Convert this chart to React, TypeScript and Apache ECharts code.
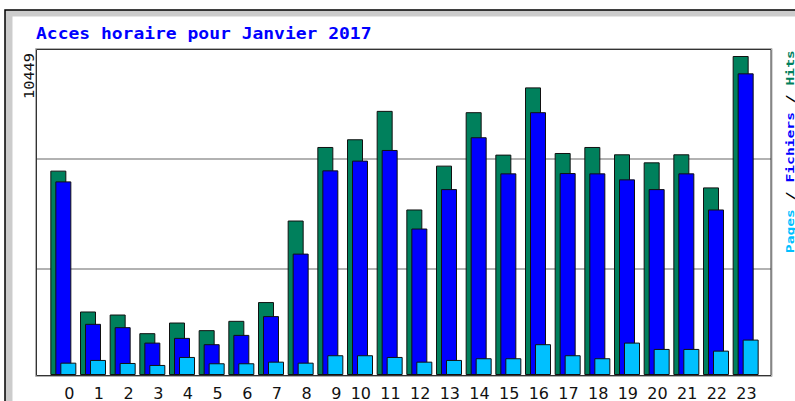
import React, { useEffect, useRef } from "react";
import * as echarts from "echarts";

const hours = ["0","1","2","3","4","5","6","7","8","9","10","11","12","13","14","15","16","17","18","19","20","21","22","23"];
const hits = [6694, 2080, 1981, 1370, 1719, 1469, 1774, 2389, 5060, 7469, 7722, 8652, 5422, 6858, 8609, 7219, 9421, 7272, 7469, 7229, 6966, 7229, 6145, 10449];
const files = [6342, 1676, 1567, 1061, 1216, 1009, 1314, 1929, 3976, 6703, 7022, 7371, 4798, 6089, 7788, 6605, 8609, 6615, 6605, 6408, 6089, 6605, 5422, 9881];
const pages = [404, 493, 394, 329, 591, 384, 384, 437, 404, 647, 647, 591, 437, 493, 549, 549, 1009, 647, 549, 1061, 854, 854, 798, 1160];
const titleText = "Acces horaire pour Janvier 2017";
const legendParts = ["Pages", "Fichiers", "Hits"];

const HIT = "#00805C";
const FILE = "#0000FF";
const PAGE = "#00C0FF";

export default function App() {
  const ref = useRef<HTMLDivElement>(null);
  useEffect(() => {
    const chart = echarts.init(ref.current!, null, { renderer: "svg" });
    const maxHits = Math.max(...hits);
    const yTop = maxHits * 325.5 / 319;
    const barStyle = (c: string) => ({ color: c, borderColor: "#111", borderWidth: 1 });
    chart.setOption({
      animation: false,
      backgroundColor: "#ffffff",
      grid: [
        { left: 36.5, top: 49.5, width: 734.5, height: 328.5 },
        { left: 48.5, top: 49.5, width: 712, height: 325.5 },
        { left: 59.5, top: 49.5, width: 712, height: 325.5 },
      ],
      xAxis: [
        { gridIndex: 0, type: "value", show: false, min: 0, max: 1 },
        { gridIndex: 1, type: "category", data: hours, show: false },
        {
          gridIndex: 2, type: "category", data: hours,
          axisLine: { show: false }, axisTick: { show: false }, splitLine: { show: false },
          axisLabel: { interval: 0, align: "right", margin: 10, fontFamily: "DejaVu Sans", fontSize: 16, lineHeight: 16, color: "#111" },
        },
      ],
      yAxis: [
        {
          gridIndex: 0, type: "value", min: 0, max: 3, interval: 1,
          axisLine: { show: false }, axisTick: { show: false }, axisLabel: { show: false },
          splitLine: { show: true, showMinLine: false, showMaxLine: false, lineStyle: { color: "#999999", width: 1.5 } },
        },
        { gridIndex: 1, type: "value", min: 0, max: yTop, show: false },
        { gridIndex: 2, type: "value", min: 0, max: 1, show: false },
      ],
      series: [
        { type: "bar", name: "Hits", xAxisIndex: 1, yAxisIndex: 1, data: hits, barWidth: 16, barGap: "-68.75%", itemStyle: barStyle(HIT), z: 2 },
        { type: "bar", name: "Fichiers", xAxisIndex: 1, yAxisIndex: 1, data: files, barWidth: 16, barGap: "-68.75%", itemStyle: barStyle(FILE), z: 3 },
        { type: "bar", name: "Pages", xAxisIndex: 1, yAxisIndex: 1, data: pages, barWidth: 16, barGap: "-68.75%", itemStyle: barStyle(PAGE), z: 4 },
      ],
      graphic: [
        { type: "rect", z: -100, silent: true, shape: { x: 5, y: 10, width: 800, height: 400 }, style: { fill: "#CCCCCC", stroke: "#000", lineWidth: 1.5 } },
        { type: "rect", z: -99, silent: true, shape: { x: 12.5, y: 16.5, width: 800, height: 400 }, style: { fill: "#ffffff" } },
        { type: "rect", z: 10, silent: true, shape: { x: 35.5, y: 48.5, width: 736.5, height: 328 }, style: { fill: "none", stroke: "#B0B0B0", lineWidth: 1 } },
        { type: "rect", z: 11, silent: true, shape: { x: 36.5, y: 49.5, width: 734.5, height: 326 }, style: { fill: "none", stroke: "#333333", lineWidth: 1 } },
        {
          type: "text", z: 12, silent: true, x: 36, y: 33.3, scaleX: 1.09,
          style: { text: titleText, fill: "#0000FF", fontFamily: "DejaVu Sans Mono", fontWeight: "bold", fontSize: 16.5, align: "left", verticalAlign: "middle" },
        },
        {
          type: "text", z: 12, silent: true, x: 28.5, y: 76, rotation: Math.PI / 2, scaleX: 1.09,
          style: { text: String(maxHits), fill: "#111", fontFamily: "DejaVu Sans Mono", fontSize: 14, align: "center", verticalAlign: "middle" },
        },
        {
          type: "text", z: 12, silent: true, x: 790, y: 151.7, rotation: Math.PI / 2, scaleX: 1.333,
          style: {
            text: `{p|${legendParts[0]}}{s| / }{f|${legendParts[1]}}{s| / }{h|${legendParts[2]}}`,
            fontFamily: "DejaVu Sans Mono", fontWeight: "bold", fontSize: 11, align: "center", verticalAlign: "middle",
            rich: {
              p: { fill: PAGE, fontFamily: "DejaVu Sans Mono", fontWeight: "bold", fontSize: 11 },
              s: { fill: "#000", fontFamily: "DejaVu Sans Mono", fontWeight: "bold", fontSize: 11 },
              f: { fill: FILE, fontFamily: "DejaVu Sans Mono", fontWeight: "bold", fontSize: 11 },
              h: { fill: HIT, fontFamily: "DejaVu Sans Mono", fontWeight: "bold", fontSize: 11 },
            },
          },
        },
      ],
    });
    return () => chart.dispose();
  }, []);
  return <div ref={ref} style={{ position: "fixed", left: 0, top: 0, width: 795, height: 401 }} />;
}
